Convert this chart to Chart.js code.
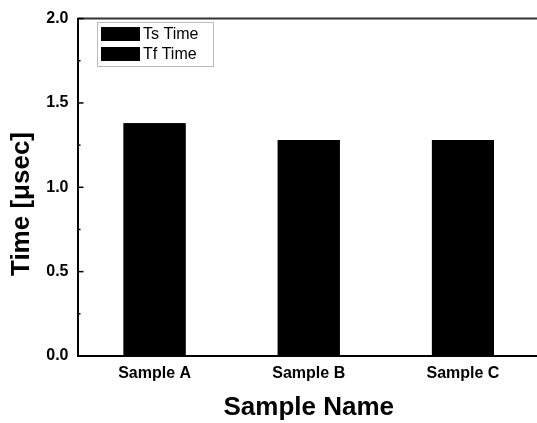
<!DOCTYPE html>
<html>
<head>
<meta charset="utf-8">
<script src="https://cdn.jsdelivr.net/npm/chart.js@4/dist/chart.umd.min.js"></script>
<style>
  html, body { margin: 0; padding: 0; background: #fff; overflow: hidden; }
  #wrap { width: 537px; height: 423px; overflow: hidden; }
  canvas { display: block; }
</style>
</head>
<body>
<div id="wrap"><canvas id="c" width="541" height="423"></canvas></div>
<script>
const categories = ["Sample A", "Sample B", "Sample C"];
const tsTime = [1.38, 1.28, 1.28];
const tfTime = [1.38, 1.28, 1.28];
const seriesLabels = ["Ts Time", "Tf Time"];
const yTicks = [0, 0.5, 1.0, 1.5, 2.0];
const xTitle = "Sample Name";
const yTitle = "Time [\u03bcsec]";

const FONT = "'Liberation Sans', Arial, Helvetica, sans-serif";

const decorPlugin = {
  id: 'decor',
  afterDraw(chart) {
    const ctx = chart.ctx;
    const a = chart.chartArea;
    const y = chart.scales.y;
    ctx.save();
    // top frame line
    ctx.strokeStyle = '#333';
    ctx.lineWidth = 2;
    ctx.beginPath();
    ctx.moveTo(a.left, a.top);
    ctx.lineTo(a.right, a.top);
    ctx.stroke();
    // inward major and minor ticks on y axis
    ctx.strokeStyle = '#000';
    ctx.lineWidth = 1.5;
    const vals = y.ticks.map(t => t.value);
    vals.forEach((v, i) => {
      const py = y.getPixelForValue(v);
      ctx.beginPath();
      ctx.moveTo(a.left, py);
      ctx.lineTo(a.left + 6, py);
      ctx.stroke();
      if (i < vals.length - 1) {
        const pm = y.getPixelForValue((v + vals[i + 1]) / 2);
        ctx.beginPath();
        ctx.moveTo(a.left, pm);
        ctx.lineTo(a.left + 3, pm);
        ctx.stroke();
      }
    });
    // y-axis title
    ctx.fillStyle = '#000';
    ctx.font = "bold 26px " + FONT;
    ctx.textAlign = 'center';
    ctx.textBaseline = 'middle';
    ctx.translate(22, 204);
    ctx.rotate(-Math.PI / 2);
    ctx.fillText(yTitle, 0, 0);
    ctx.restore();

    // legend inside plot
    ctx.save();
    const bx = 97.5, by = 22.5, bw = 116, bh = 44;
    ctx.strokeStyle = '#777';
    ctx.lineWidth = 1;
    ctx.setLineDash([1, 1]);
    ctx.strokeRect(bx, by, bw, bh);
    ctx.setLineDash([]);
    ctx.font = "16px " + FONT;
    ctx.textAlign = 'left';
    ctx.textBaseline = 'middle';
    chart.data.datasets.forEach((ds, i) => {
      const ry = 27 + i * 20;
      ctx.fillStyle = ds.backgroundColor;
      ctx.fillRect(101, ry, 39, 14);
      ctx.fillStyle = '#000';
      ctx.fillText(ds.label, 143, ry + 7.5);
    });
    ctx.restore();
  }
};

new Chart(document.getElementById('c'), {
  type: 'bar',
  data: {
    labels: categories,
    datasets: [
      { label: seriesLabels[0], data: tsTime, backgroundColor: '#000', borderWidth: 0 },
      { label: seriesLabels[1], data: tfTime, backgroundColor: '#000', borderWidth: 0 }
    ]
  },
  options: {
    responsive: false,
    animation: false,
    devicePixelRatio: 1,
    layout: { padding: { left: 0, top: 14, right: 1, bottom: 0 } },
    plugins: { legend: { display: false }, tooltip: { enabled: false } },
    datasets: { bar: { grouped: false, barPercentage: 0.402, categoryPercentage: 1.0 } },
    scales: {
      x: {
        type: 'category',
        offset: true,
        grid: { display: false, drawTicks: false },
        border: { display: true, color: '#000', width: 2 },
        ticks: { color: '#000', font: { family: FONT, size: 16, weight: 'bold' }, padding: 8, maxRotation: 0 },
        title: { display: true, text: xTitle, color: '#000', font: { family: FONT, size: 26, weight: 'bold' }, padding: { top: 0, bottom: 0 } },
        afterFit(s) { s.height = 67; }
      },
      y: {
        min: 0,
        max: 2,
        afterBuildTicks(s) { s.ticks = yTicks.map(v => ({ value: v })); },
        grid: { display: false, drawTicks: false },
        border: { display: true, color: '#000', width: 2 },
        ticks: { color: '#000', font: { family: FONT, size: 16, weight: 'bold' }, padding: 9, callback: v => Number(v).toFixed(1) },
        afterFit(s) { s.width = 77.5; }
      }
    }
  },
  plugins: [decorPlugin]
});
</script>
</body>
</html>
